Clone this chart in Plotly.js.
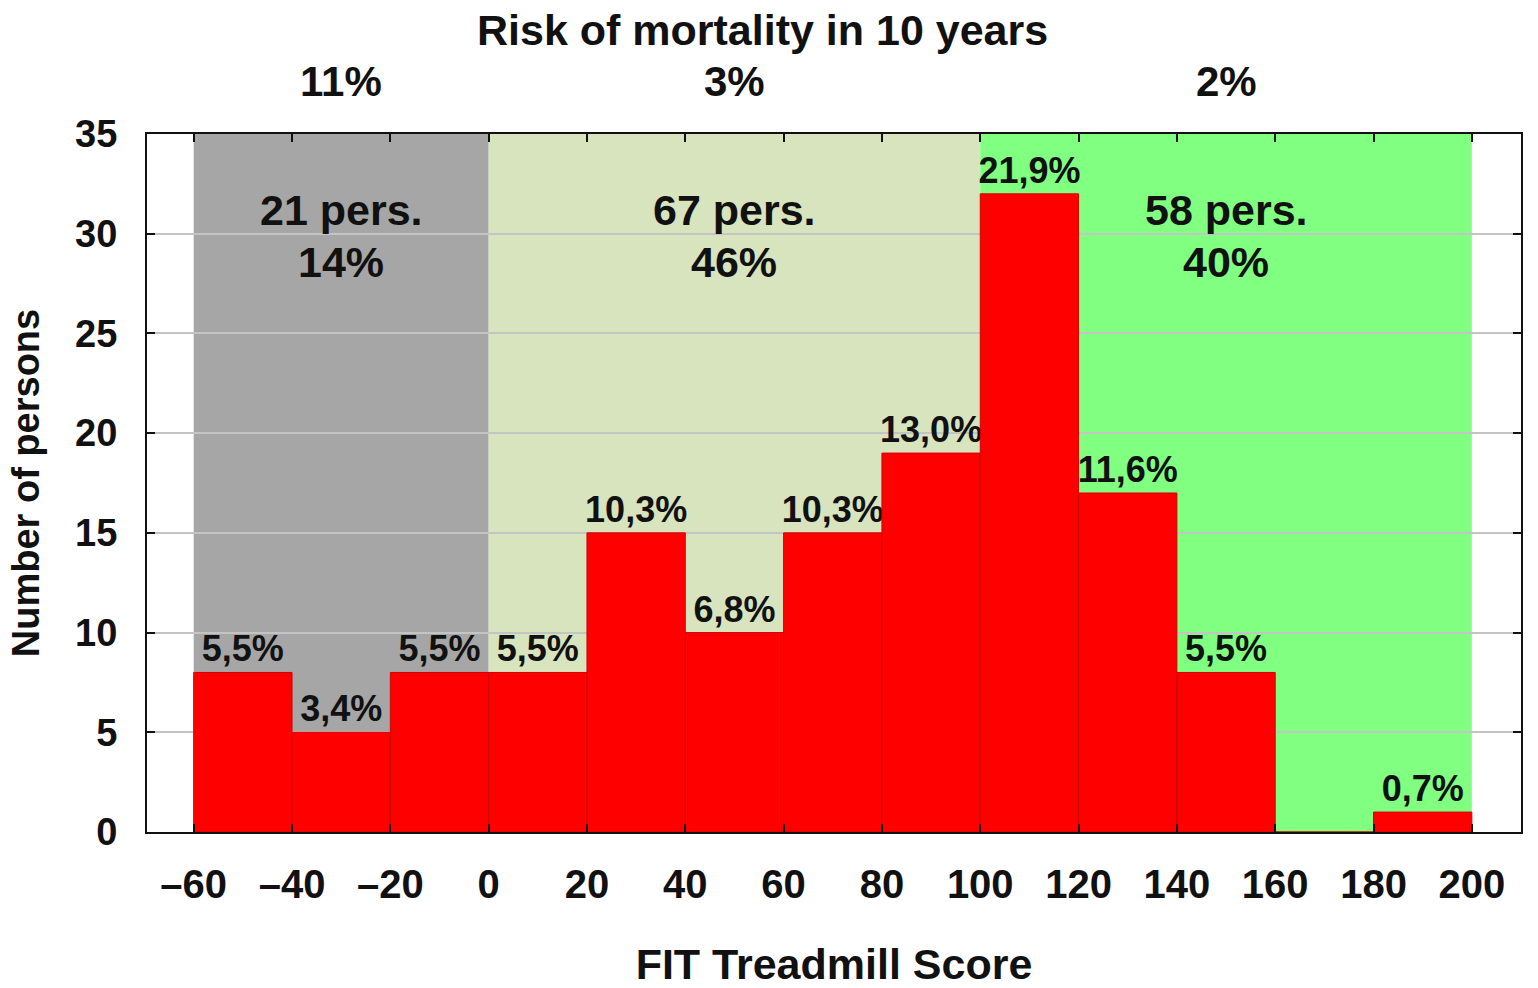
<!DOCTYPE html>
<html>
<head>
<meta charset="utf-8">
<script src="https://cdn.plot.ly/plotly-3.0.1.min.js"></script>
<style>
  html, body { margin: 0; padding: 0; background: #fff; }
  #plot { width: 1538px; height: 988px; }
</style>
</head>
<body>
<div id="plot"></div>
<script>
// histogram bins (FIT treadmill score), width 20
const binCenters = [-50, -30, -10, 10, 30, 50, 70, 90, 110, 130, 150, 170, 190];
const counts = [8, 5, 8, 8, 15, 10, 15, 19, 32, 17, 8, 0, 1];
const pctLabels = ['5,5%', '3,4%', '5,5%', '5,5%', '10,3%', '6,8%', '10,3%', '13,0%', '21,9%', '11,6%', '5,5%', '', '0,7%'];

// risk zones
const zoneStart = [-60, 0, 100];
const zoneEnd = [0, 100, 200];
const zoneColors = ['#a6a6a6', '#d8e4bd', '#80ff80'];
const zonePersons = ['21 pers.', '67 pers.', '58 pers.'];
const zoneShares = ['14%', '46%', '40%'];
const zoneRisk = ['11%', '3%', '2%'];

// axis ticks
const xTickVals = [-60, -40, -20, 0, 20, 40, 60, 80, 100, 120, 140, 160, 180, 200];
const xTickText = ['\u201360', '\u201340', '\u201320', '0', '20', '40', '60', '80', '100', '120', '140', '160', '180', '200'];
const yTickVals = [0, 5, 10, 15, 20, 25, 30, 35];

const FONT = 'Liberation Sans, Arial, Helvetica, sans-serif';

const bars = {
    type: 'bar',
    x: binCenters,
    y: counts,
    width: 20,
    text: pctLabels,
    textposition: 'outside',
    constraintext: 'none',
    cliponaxis: false,
    textfont: {family: FONT, size: 36, color: '#111', weight: 'bold'},
    marker: {color: '#ff0000', line: {color: '#d40000', width: 1}},
    hoverinfo: 'x+y',
    showlegend: false
};

const shapes = zoneStart.map((x0, i) => ({
    type: 'rect', xref: 'x', yref: 'y',
    x0: x0, x1: zoneEnd[i], y0: 0, y1: 35,
    fillcolor: zoneColors[i], line: {width: 0}, layer: 'below'
}));

const annotations = [];
// main title above the risk numbers
annotations.push({
    text: 'Risk of mortality in 10 years', xref: 'paper', yref: 'paper',
    x: 0.4476, y: 1.149, showarrow: false, xanchor: 'center', yanchor: 'middle',
    font: {family: FONT, size: 43, color: '#111', weight: 'bold'}
});
zoneStart.forEach((x0, i) => {
    const cx = (x0 + zoneEnd[i]) / 2;
    annotations.push({
        text: zoneRisk[i], xref: 'x', yref: 'paper', x: cx, y: 1.0745,
        showarrow: false, xanchor: 'center', yanchor: 'middle',
        font: {family: FONT, size: 42, color: '#111', weight: 'bold'}
    });
    annotations.push({
        text: zonePersons[i], xref: 'x', yref: 'y', x: cx, y: 31.2,
        showarrow: false, xanchor: 'center', yanchor: 'middle',
        font: {family: FONT, size: 43, color: '#111', weight: 'bold'}
    });
    annotations.push({
        text: zoneShares[i], xref: 'x', yref: 'y', x: cx, y: 28.6,
        showarrow: false, xanchor: 'center', yanchor: 'middle',
        font: {family: FONT, size: 43, color: '#111', weight: 'bold'}
    });
});

const layout = {
    width: 1538, height: 988,
    margin: {l: 147, r: 17, t: 134, b: 156},
    paper_bgcolor: '#ffffff',
    plot_bgcolor: '#ffffff',
    font: {family: FONT, color: '#111', weight: 'bold'},
    bargap: 0,
    xaxis: {
        range: [-69.5, 210],
        tickvals: xTickVals, ticktext: xTickText,
        ticks: 'inside', ticklen: 8, tickwidth: 2, tickcolor: '#111',
        showline: true, linecolor: '#111', linewidth: 2, mirror: 'ticks',
        showgrid: false, zeroline: false,
        tickfont: {family: FONT, size: 40, color: '#111', weight: 'bold'},
        ticklabelstandoff: 16,
        title: {text: 'FIT Treadmill Score', standoff: 44,
                font: {family: FONT, size: 43, color: '#111', weight: 'bold'}}
    },
    yaxis: {
        range: [0, 35],
        tickvals: yTickVals,
        ticks: 'inside', ticklen: 8, tickwidth: 2, tickcolor: '#111',
        showline: true, linecolor: '#111', linewidth: 2, mirror: 'ticks',
        showgrid: true, gridcolor: '#c4c4c4', gridwidth: 2, zeroline: false,
        tickfont: {family: FONT, size: 38, color: '#111', weight: 'bold'},
        ticklabelstandoff: 20,
        title: {text: 'Number of persons', standoff: 24,
                font: {family: FONT, size: 38, color: '#111', weight: 'bold'}}
    },
    shapes: shapes,
    annotations: annotations
};

Plotly.newPlot('plot', [bars], layout, {displayModeBar: false, staticPlot: true});
</script>
</body>
</html>
